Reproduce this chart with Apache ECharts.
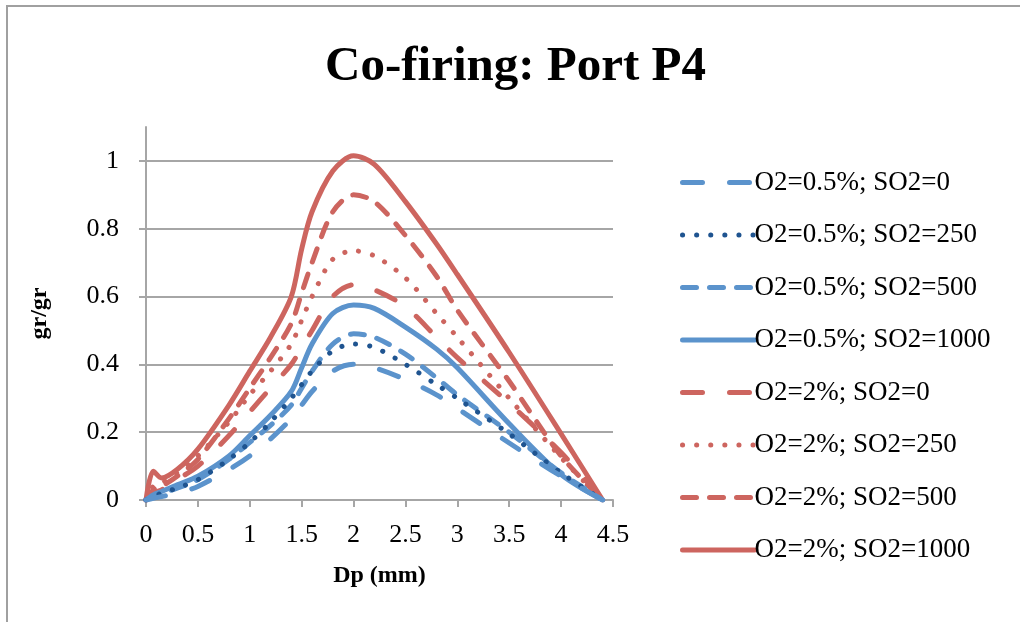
<!DOCTYPE html>
<html>
<head>
<meta charset="utf-8">
<title>Co-firing: Port P4</title>
<script src="https://cdn.jsdelivr.net/npm/echarts@6/dist/echarts.min.js"></script>
<style>
  html, body { margin: 0; padding: 0; background: #ffffff; }
  #chart { width: 1020px; height: 622px; }
</style>
</head>
<body>
<div id="chart"></div>
<script>
// Particle size (mm) at which each curve is sampled
const dp = [0, 0.07, 0.15, 0.3, 0.5, 0.8, 1.0, 1.2, 1.4, 1.5, 1.6, 1.8, 2.0, 2.2, 2.5, 2.8, 3.0, 3.5, 4.0, 4.4];

// Mass fraction (gr/gr) for each O2 / SO2 condition
const o05_so0    = [0, 0.005, 0.01, 0.02, 0.04, 0.09, 0.13, 0.18, 0.24, 0.28, 0.32, 0.38, 0.40, 0.39, 0.355, 0.31, 0.27, 0.168, 0.07, 0];
const o05_so250  = [0, 0.01, 0.02, 0.035, 0.06, 0.12, 0.17, 0.23, 0.30, 0.34, 0.38, 0.44, 0.46, 0.45, 0.40, 0.34, 0.30, 0.195, 0.08, 0];
const o05_so500  = [0, 0.01, 0.02, 0.035, 0.06, 0.12, 0.17, 0.22, 0.28, 0.33, 0.38, 0.46, 0.49, 0.48, 0.43, 0.36, 0.31, 0.20, 0.08, 0];
const o05_so1000 = [0, 0.015, 0.025, 0.045, 0.07, 0.13, 0.19, 0.25, 0.32, 0.39, 0.46, 0.55, 0.575, 0.565, 0.51, 0.445, 0.39, 0.225, 0.075, 0];
const o2_so0     = [0, 0.02, 0.03, 0.06, 0.10, 0.19, 0.26, 0.33, 0.40, 0.45, 0.50, 0.60, 0.635, 0.62, 0.57, 0.48, 0.42, 0.285, 0.14, 0];
const o2_so250   = [0, 0.04, 0.05, 0.08, 0.13, 0.23, 0.31, 0.38, 0.46, 0.53, 0.60, 0.71, 0.735, 0.72, 0.655, 0.55, 0.48, 0.30, 0.125, 0];
const o2_so500   = [0, 0.03, 0.04, 0.07, 0.12, 0.24, 0.33, 0.42, 0.52, 0.61, 0.70, 0.85, 0.90, 0.88, 0.78, 0.66, 0.56, 0.35, 0.13, 0];
const o2_so1000  = [0, 0.085, 0.065, 0.09, 0.15, 0.28, 0.38, 0.48, 0.60, 0.74, 0.85, 0.97, 1.015, 0.99, 0.88, 0.755, 0.665, 0.435, 0.195, 0];

const seriesNames = [
  'O2=0.5%; SO2=0', 'O2=0.5%; SO2=250', 'O2=0.5%; SO2=500', 'O2=0.5%; SO2=1000',
  'O2=2%; SO2=0', 'O2=2%; SO2=250', 'O2=2%; SO2=500', 'O2=2%; SO2=1000'
];
const seriesValues = [o05_so0, o05_so250, o05_so500, o05_so1000, o2_so0, o2_so250, o2_so500, o2_so1000];

const BLUE = '#5b93cc';
const NAVY = '#1f5490';
const RED = '#cd655f';
const LONG_DASH = [20, 27];
const DASH = [14, 13];
const DOT = [0.1, 14];
const lineStyles = [
  { color: BLUE, type: LONG_DASH },
  { color: NAVY, type: DOT },
  { color: BLUE, type: DASH },
  { color: BLUE, type: 'solid' },
  { color: RED, type: LONG_DASH },
  { color: RED, type: DOT },
  { color: RED, type: DASH },
  { color: RED, type: 'solid' }
];

const FONT = '"Liberation Serif", "DejaVu Serif", serif';
const GRID_GREY = '#a6a6a6';

const series = seriesNames.map((name, i) => ({
  name: name,
  type: 'line',
  smooth: 0.3,
  symbol: 'none',
  data: dp.map((x, k) => [x, seriesValues[i][k]]),
  lineStyle: Object.assign({ width: 5, cap: 'round', join: 'round' }, lineStyles[i]),
  itemStyle: { color: lineStyles[i].color },
  z: 2 + (7 - i)
}));

const chart = echarts.init(document.getElementById('chart'), null, { renderer: 'canvas' });
chart.setOption({
  animation: false,
  backgroundColor: '#ffffff',
  graphic: [{
    type: 'rect',
    shape: { x: 7, y: 6, width: 1200, height: 800 },
    style: { fill: 'none', stroke: '#a0a0a0', lineWidth: 2 },
    silent: true
  }],
  title: {
    text: 'Co-firing: Port P4',
    left: 320,
    top: 38,
    textStyle: { fontFamily: FONT, fontSize: 49, fontWeight: 'bold', color: '#000000' }
  },
  grid: { left: 146, top: 127, right: 407, bottom: 122, containLabel: false },
  legend: {
    orient: 'vertical',
    left: 675,
    top: 164,
    itemWidth: 72,
    itemHeight: 14,
    itemGap: 25.5,
    itemStyle: { opacity: 0 },
    lineStyle: { width: 5, cap: 'round' },
    textStyle: { fontFamily: FONT, fontSize: 27, color: '#000000', padding: [0, 0, 0, -5] },
    data: seriesNames
  },
  xAxis: {
    type: 'value',
    min: 0,
    max: 4.5,
    interval: 0.5,
    name: 'Dp (mm)',
    nameLocation: 'middle',
    nameGap: 64,
    nameTextStyle: { fontFamily: FONT, fontSize: 24, fontWeight: 'bold', color: '#000000' },
    axisLine: { show: true, lineStyle: { color: GRID_GREY, width: 2 } },
    axisTick: { show: true, length: 7, lineStyle: { color: GRID_GREY, width: 2 } },
    axisLabel: { fontFamily: FONT, fontSize: 26, color: '#000000', margin: 22 },
    splitLine: { show: false }
  },
  yAxis: {
    type: 'value',
    min: 0,
    max: 1.1,
    interval: 0.2,
    name: 'gr/gr',
    nameLocation: 'middle',
    nameGap: 94,
    nameRotate: 90,
    nameTextStyle: { fontFamily: FONT, fontSize: 24, fontWeight: 'bold', color: '#000000' },
    axisLine: { show: true, lineStyle: { color: GRID_GREY, width: 2 } },
    axisTick: { show: true, length: 7, lineStyle: { color: GRID_GREY, width: 2 } },
    axisLabel: { fontFamily: FONT, fontSize: 26, color: '#000000', margin: 27, showMaxLabel: false },
    splitLine: { show: true, showMinLine: false, showMaxLine: false, lineStyle: { color: GRID_GREY, width: 2 } }
  },
  series: series
});
</script>
</body>
</html>
